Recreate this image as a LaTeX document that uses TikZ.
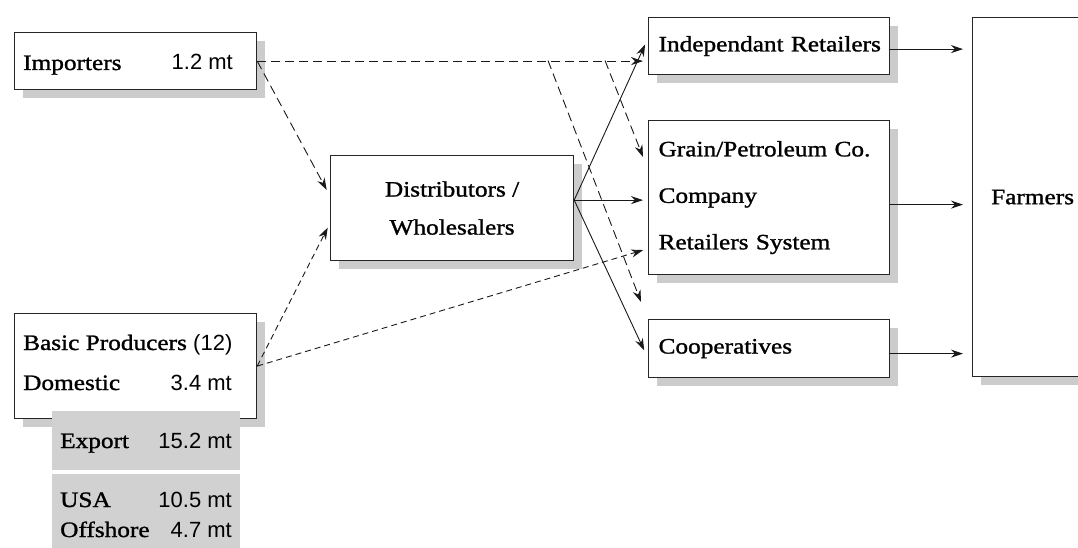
\documentclass[tikz,border=0pt]{standalone}
\usepackage{fontspec}
\setmainfont{Liberation Serif}[FakeStretch=1.15,FakeBold=1.2]
\newfontfamily\numfont{Liberation Sans}
\usetikzlibrary{arrows.meta,shadows}

\begin{document}
\begin{tikzpicture}[x=1pt,y=-1pt,font=\fontsize{22pt}{26pt}\selectfont]
\tikzstyle{box}=[draw=black!85,line width=1.2pt,fill=white,anchor=north west,inner sep=0pt,
  drop shadow={shadow xshift=8pt,shadow yshift=-8pt,fill=black!20,opacity=1}]
\tikzstyle{greybox}=[fill=black!18,anchor=north west,inner sep=0pt]
\tikzstyle{lbl}=[inner sep=0pt]
\tikzstyle{flow}=[-{Stealth[length=12pt,width=8pt]},line width=0.9pt,black!90]
\tikzstyle{impflow}=[flow,dash pattern=on 9pt off 5pt]
\tikzstyle{prodflow}=[flow,dash pattern=on 6pt off 4pt]

\useasboundingbox (0,0) rectangle (1078,548);

% suppliers
\node[box,minimum width=242pt,minimum height=57pt] (imp) at (14,32) {};
\node[lbl,anchor=base west] (imp-name) at (23,70) {Importers};
\node[lbl,anchor=base east] (imp-mt) at (233,70) {\numfont 1.2 mt};

\node[box,minimum width=242pt,minimum height=105pt] (basic) at (14,313) {};
\node[lbl,anchor=base west] (basic-name) at (23,350) {Basic Producers {\numfont (12)}};
\node[lbl,anchor=base west] (dom-name) at (23,390) {Domestic};
\node[lbl,anchor=base east] (dom-mt) at (232,390) {\numfont 3.4 mt};

\node[greybox,minimum width=188pt,minimum height=59pt] (export) at (52,411) {};
\node[lbl,anchor=base west] (export-name) at (60,448) {Export};
\node[lbl,anchor=base east] (export-mt) at (232,448) {\numfont 15.2 mt};

\node[greybox,minimum width=188pt,minimum height=74pt] (usa) at (52,474) {};
\node[lbl,anchor=base west] (usa-name) at (60,507) {USA};
\node[lbl,anchor=base east] (usa-mt) at (232,507) {\numfont 10.5 mt};
\node[lbl,anchor=base west] (off-name) at (60,537) {Offshore};
\node[lbl,anchor=base east] (off-mt) at (232,537) {\numfont 4.7 mt};

% middle and retail
\node[box,minimum width=243pt,minimum height=105pt,align=center,
  font=\fontsize{22pt}{38pt}\selectfont] (dist) at (330,155) {Distributors /\\Wholesalers};

\node[box,minimum height=57pt,text width=221pt,inner xsep=10pt,align=left] (ind) at (648,17) {\mbox{Independant Retailers}};
\node[box,minimum height=154pt,text width=221pt,inner xsep=10pt,align=left,
  font=\fontsize{22pt}{46.5pt}\selectfont] (grain) at (648,120) {Grain/Petroleum Co.\\Company\\Retailers System};
\node[box,minimum height=58pt,text width=221pt,inner xsep=10pt,align=left] (coop) at (648,319) {Cooperatives};

\node[box,minimum width=120pt,minimum height=359pt] (farm) at (972,17) {Farmers};

% importers
\coordinate (br1) at (548,60.5);
\coordinate (br2) at (605,60.5);
\coordinate (grain-top) at (643,157);
\coordinate (gap) at (641,302);
\draw[impflow,shorten >=5pt] (imp.east) -- (imp.east -| ind.west);
\draw[impflow] (br1) -- (gap);
\draw[impflow] (br2) -- (grain-top);
\draw[impflow,shorten >=7pt] (imp.east) -- ([yshift=12pt]dist.west);

% basic producers
\draw[prodflow,shorten >=5pt] (basic.east) -- ([yshift=-15pt]dist.west);
\draw[prodflow,shorten >=5pt] (basic.east) -- ([yshift=-51pt]grain.west);

% distributors
\draw[flow,shorten >=7pt] ([yshift=8pt]dist.east) -- ([yshift=8pt]ind.west);
\draw[flow,shorten >=5pt] ([yshift=8pt]dist.east) coordinate (fan) -- (fan -| grain.west);
\draw[flow,shorten >=9pt] (fan) -- ([yshift=-10pt]coop.west);

% to farmers
\draw[flow,shorten >=9pt] ([yshift=-3pt]ind.east) coordinate (r1) -- (r1 -| farm.west);
\draw[flow,shorten >=9pt] ([yshift=-7pt]grain.east) coordinate (r2) -- (r2 -| farm.west);
\draw[flow,shorten >=9pt] ([yshift=-5pt]coop.east) coordinate (r3) -- (r3 -| farm.west);

\end{tikzpicture}
\end{document}
